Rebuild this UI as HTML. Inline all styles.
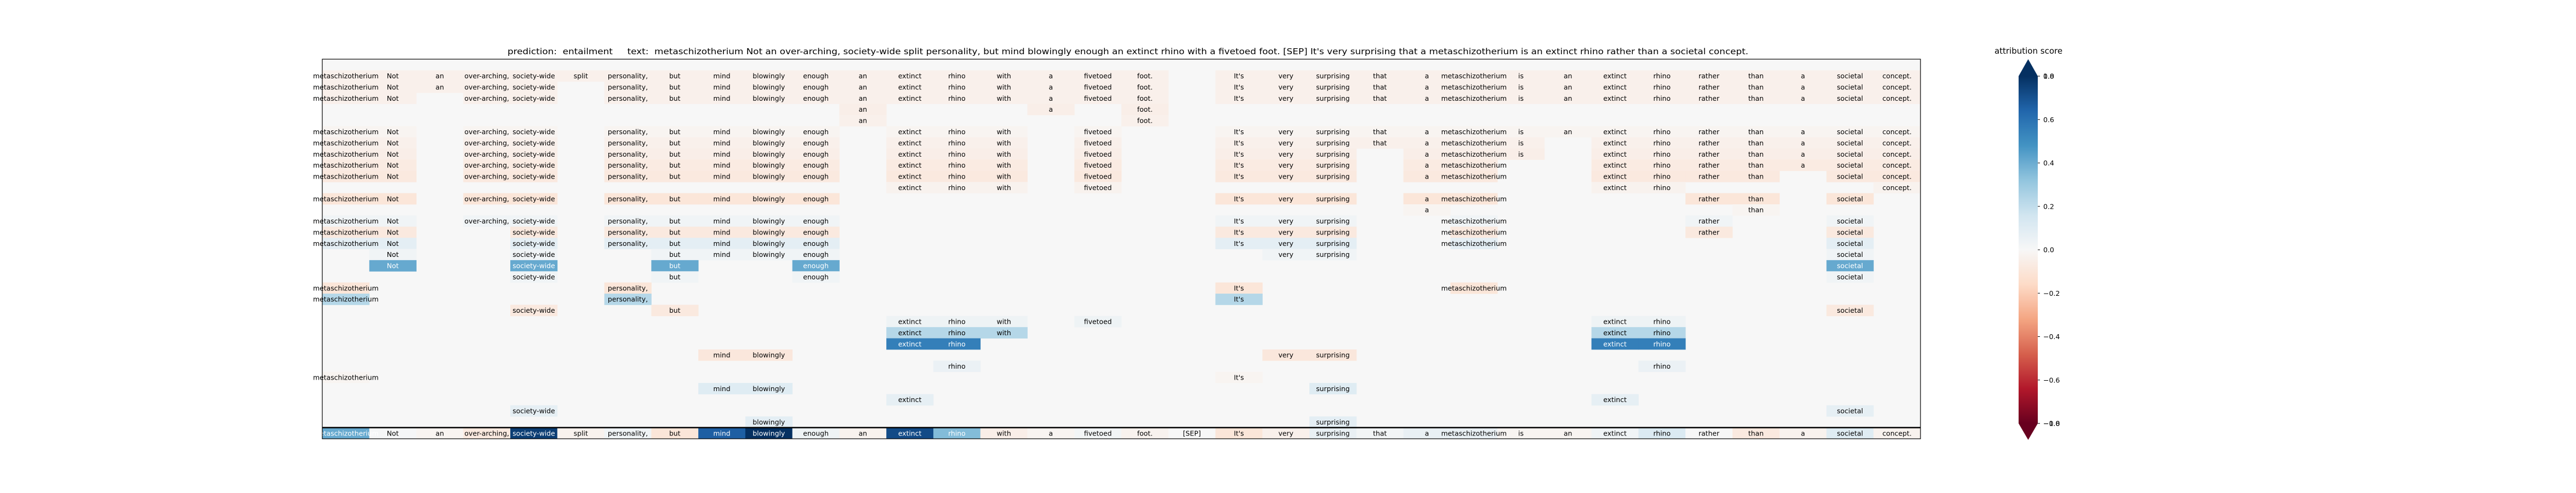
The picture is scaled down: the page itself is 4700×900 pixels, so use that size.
<!DOCTYPE html>
<html><head><meta charset="utf-8">
<style>
html,body{margin:0;padding:0;background:#fff;}
svg{display:block;}
text{font-family:"DejaVu Sans","Liberation Sans",sans-serif;}
</style></head>
<body>
<svg id="chart" width="4700" height="900" xmlns="http://www.w3.org/2000/svg">
  <rect width="4700" height="900" fill="#ffffff"/>
  <text x="926" y="99" font-size="15" textLength="2264" lengthAdjust="spacingAndGlyphs" xml:space="preserve" fill="#000">prediction:  entailment     text:  metaschizotherium Not an over-arching, society-wide split personality, but mind blowingly enough an extinct rhino with a fivetoed foot. [SEP] It's very surprising that a metaschizotherium is an extinct rhino rather than a societal concept.</text>
  <g id="heat"></g>
  <g id="labels"></g>
  <rect x="588" y="108" width="2916" height="693" fill="none" stroke="#000" stroke-width="1.2"/>
  <line x1="588" x2="3504" y1="780.6" y2="780.6" stroke="#000" stroke-width="2.5"/>
  <defs>
    <linearGradient id="cbgrad" x1="0" y1="1" x2="0" y2="0"></linearGradient>
  </defs>
  <g id="colorbar">
    <text x="3701" y="98" font-size="15" text-anchor="middle" fill="#000">attribution score</text>
  </g>
</svg>
<script>
const tokens = ["metaschizotherium","Not","an","over-arching,","society-wide","split","personality,","but","mind","blowingly","enough","an","extinct","rhino","with","a","fivetoed","foot.","[SEP]","It's","very","surprising","that","a","metaschizotherium","is","an","extinct","rhino","rather","than","a","societal","concept."];

const allButSep = [0,1,2,3,4,5,6,7,8,9,10,11,12,13,14,15,16,17,19,20,21,22,23,24,25,26,27,28,29,30,31,32,33];
const rowActiveCols = [
  [],
  allButSep,
  allButSep.filter(c => c !== 5),
  allButSep.filter(c => c !== 5 && c !== 2),
  [11,15,17],
  [11,17],
  [0,1,3,4,6,7,8,9,10,12,13,14,16,19,20,21,22,23,24,25,26,27,28,29,30,31,32,33],
  [0,1,3,4,6,7,8,9,10,12,13,14,16,19,20,21,22,23,24,25,27,28,29,30,31,32,33],
  [0,1,3,4,6,7,8,9,10,12,13,14,16,19,20,21,23,24,25,27,28,29,30,31,32,33],
  [0,1,3,4,6,7,8,9,10,12,13,14,16,19,20,21,23,24,27,28,29,30,31,32,33],
  [0,1,3,4,6,7,8,9,10,12,13,14,16,19,20,21,23,24,27,28,29,30,32,33],
  [12,13,14,16,27,28,33],
  [0,1,3,4,6,7,8,9,10,19,20,21,23,24,29,30,32],
  [23,30],
  [0,1,3,4,6,7,8,9,10,19,20,21,24,29,32],
  [0,1,4,6,7,8,9,10,19,20,21,24,29,32],
  [0,1,4,6,7,8,9,10,19,20,21,24,32],
  [1,4,7,8,9,10,20,21,32],
  [1,4,7,10,32],
  [4,7,10,32],
  [0,6,19,24],
  [0,6,19],
  [4,7,32],
  [12,13,14,16,27,28],
  [12,13,14,27,28],
  [12,13,27,28],
  [8,9,20,21],
  [13,28],
  [0,19],
  [8,9,21],
  [12,27],
  [4,32],
  [9,21]
];
const rowScores = [0,-0.04,-0.04,-0.04,-0.05,-0.04,-0.02,-0.04,-0.05,-0.07,-0.08,-0.03,-0.1,-0.02,0.03,-0.08,0.08,0.03,0.41,0.03,-0.1,0.23,-0.08,0.04,0.23,0.55,-0.09,0.05,-0.02,0.1,0.07,0.07,0.08];
const finalRowScores = [0.41,0.01,-0.02,-0.08,0.76,-0.03,0.03,-0.1,0.66,0.8,0.04,-0.03,0.72,0.35,-0.05,-0.02,0.02,-0.03,0.0,-0.1,-0.04,0.06,0.02,0.06,0.06,-0.02,-0.02,0.03,0.12,0.0,-0.08,-0.03,0.1,-0.03];
const colorbarTicks = [0.8,0.6,0.4,0.2,0.0,-0.2,-0.4,-0.6,-0.8];
const colorbarTickLabels = ["0.8","0.6","0.4","0.2","0.0","\u22120.2","\u22120.4","\u22120.6","\u22120.8"];

const NS = "http://www.w3.org/2000/svg";
const X0 = 588, Y0 = 108, PW = 2916, PH = 693;
const nCols = tokens.length, nRows = rowScores.length + 1;
const cw = PW / nCols, rh = PH / nRows;
const vmin = -0.8, vmax = 0.8;
const xScale = c => X0 + c * cw;
const yScale = r => Y0 + r * rh;

const stops = [[103,0,31],[178,24,43],[214,96,77],[244,165,130],[253,219,199],[247,247,247],[209,229,240],[146,197,222],[67,147,195],[33,102,172],[5,48,97]];
function rdbu(t){
  t = Math.max(0, Math.min(1, t));
  const p = t * 10, i = Math.min(9, Math.floor(p)), f = p - i;
  const a = stops[i], b = stops[i+1];
  return "rgb(" + [0,1,2].map(k => Math.round(a[k] + (b[k]-a[k])*f)).join(",") + ")";
}
const colorOf = v => rdbu((v - vmin) / (vmax - vmin));

const heat = document.getElementById("heat");
const labels = document.getElementById("labels");

const bg = document.createElementNS(NS, "rect");
bg.setAttribute("x", X0); bg.setAttribute("y", Y0); bg.setAttribute("width", PW); bg.setAttribute("height", PH);
bg.setAttribute("fill", colorOf(0));


heat.appendChild(bg);

function drawCell(r, c, v){
  const rect = document.createElementNS(NS, "rect");
  rect.setAttribute("x", xScale(c)); rect.setAttribute("y", yScale(r));
  rect.setAttribute("width", cw + 0.4); rect.setAttribute("height", rh + 0.4);
  rect.setAttribute("fill", colorOf(v));
  
  
  heat.appendChild(rect);
  const t = document.createElementNS(NS, "text");
  t.setAttribute("x", xScale(c) + cw/2); t.setAttribute("y", yScale(r) + rh/2 + 4.5);
  t.setAttribute("text-anchor", "middle"); t.setAttribute("font-size", "12.4");
  t.setAttribute("fill", Math.abs(v) > 0.3 ? "#fff" : "#000");
  t.textContent = tokens[c];
  
  
  labels.appendChild(t);
}

rowActiveCols.forEach((cols, r) => cols.forEach(c => drawCell(r, c, rowScores[r])));
finalRowScores.forEach((v, c) => drawCell(nRows - 1, c, v));

// colorbar
const grad = document.getElementById("cbgrad");
for (let i = 0; i <= 20; i++){
  const s = document.createElementNS(NS, "stop");
  s.setAttribute("offset", (i/20));
  s.setAttribute("stop-color", rdbu(i/20));
  grad.appendChild(s);
}
const cb = document.getElementById("colorbar");
const CBX = 3683, CBW = 35, CBT = 139, CBB = 773;
const cbY = v => CBT + (vmax - v) / (vmax - vmin) * (CBB - CBT);
const bar = document.createElementNS(NS, "rect");
bar.setAttribute("x", CBX); bar.setAttribute("y", CBT); bar.setAttribute("width", CBW); bar.setAttribute("height", CBB - CBT);
bar.setAttribute("fill", "url(#cbgrad)");


cb.appendChild(bar);
const up = document.createElementNS(NS, "polygon");
up.setAttribute("points", `${CBX},${CBT} ${CBX+CBW/2},108 ${CBX+CBW},${CBT}`);
up.setAttribute("fill", rdbu(1));


cb.appendChild(up);
const dn = document.createElementNS(NS, "polygon");
dn.setAttribute("points", `${CBX},${CBB} ${CBX+CBW/2},803 ${CBX+CBW},${CBB}`);
dn.setAttribute("fill", rdbu(0));


cb.appendChild(dn);
function cbLabel(y, txt){
  const tk = document.createElementNS(NS, "line");
  tk.setAttribute("x1", CBX + CBW); tk.setAttribute("x2", CBX + CBW + 4);
  tk.setAttribute("y1", y); tk.setAttribute("y2", y); tk.setAttribute("stroke", "#000");
  
  
  cb.appendChild(tk);
  const lt = document.createElementNS(NS, "text");
  lt.setAttribute("x", CBX + CBW + 10); lt.setAttribute("y", y + 4.5);
  lt.setAttribute("font-size", "12.5"); lt.setAttribute("fill", "#000");
  lt.textContent = txt;
  
  
  cb.appendChild(lt);
}
colorbarTicks.forEach((v, i) => cbLabel(cbY(v), colorbarTickLabels[i]));
cbLabel(CBT, "1.0");
cbLabel(CBB, "\u22121.0");
</script>
</body></html>
